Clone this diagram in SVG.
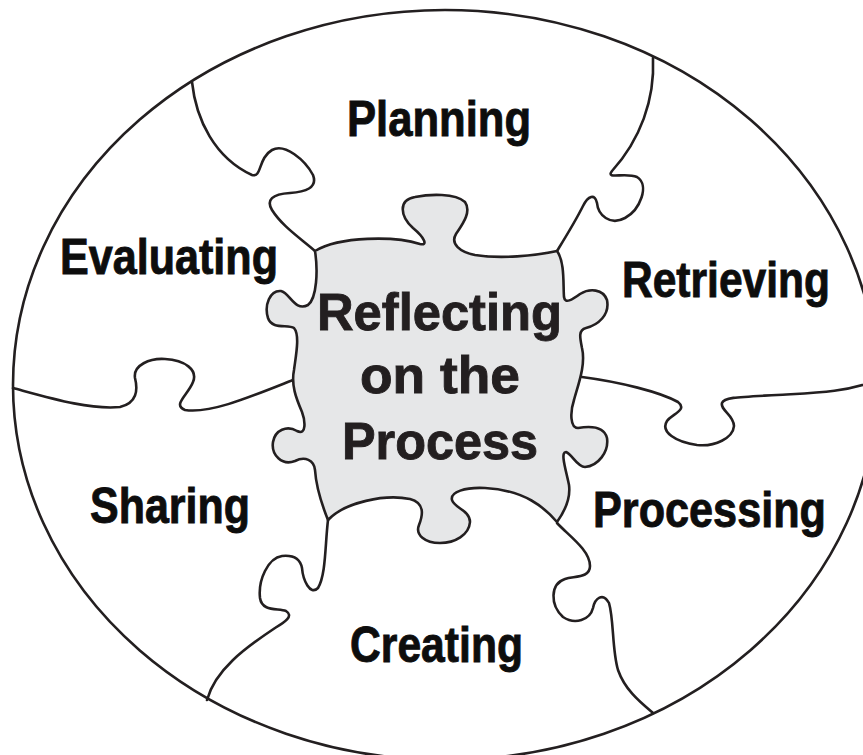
<svg xmlns="http://www.w3.org/2000/svg" width="863" height="755" viewBox="0 0 863 755">
<style>
.ln{fill:none;stroke:#231f20;stroke-width:2.6;stroke-linejoin:round;stroke-linecap:round}
.lbl{font-family:"Liberation Sans",Arial,sans-serif;font-weight:bold;font-size:50px;fill:#0d0d0d;stroke:#0d0d0d;stroke-width:0.9}
.ctr{font-family:"Liberation Sans",Arial,sans-serif;font-weight:bold;font-size:52px;fill:#231f20;stroke:#231f20;stroke-width:0.9}
</style>
<rect width="863" height="755" fill="#ffffff"/>
<g id="frame">
<ellipse cx="445" cy="385" rx="432" ry="375" fill="#ffffff" stroke="#231f20" stroke-width="2.6"/>
</g>
<g id="connectors">
<path class="ln" d="M192,82 C196,120 215,158 252,175 C262,178 258,158 272,150 C285,143 305,160 313,175 C318,188 305,192 290,193 C272,194 266,200 272,210 C282,226 300,238 315,251"/>
<path class="ln" d="M653,58 C655,100 640,140 612,171 C605,180 625,172 637,177 C650,185 640,210 625,218 C610,226 598,215 597,203 C595,193 588,196 583,206 C575,222 565,238 557,251"/>
<path class="ln" d="M582,377 C620,382 660,392 678,402 C688,410 672,414 667,421 C660,432 676,442 697,445 C715,447 733,438 734,426 C734,415 720,410 722,403 C724,397 740,397 777,395 C810,393 845,393 877,380"/>
<path class="ln" d="M557,523 C568,535 590,550 590,566 C590,578 575,576 565,579 C550,584 550,605 563,617 C575,625 590,620 593,608 C595,598 603,592 609,603 C614,620 612,650 618,670 C625,690 640,702 653,713"/>
<path class="ln" d="M328,520 C325,545 326,575 318,588 C310,596 303,580 302,568 C300,558 292,555 282,556 C268,558 258,580 260,598 C262,612 278,608 286,611 C294,616 285,622 275,628 C245,648 215,670 207,700"/>
<path class="ln" d="M13,388 C50,398 90,410 120,407 C137,403 138,390 135,378 C133,365 150,358 165,359 C185,360 198,370 193,382 C188,395 172,405 185,410 C210,414 250,397 293,380"/>
</g>
<g id="center">
<path fill="#e6e7e8" stroke="#231f20" stroke-width="2.6" stroke-linejoin="round" d="M315,251 C340,236 395,236 420,244 C428,246 425,238 413,228 C400,216 398,200 415,197 C430,194 455,193 465,202 C472,212 462,225 456,234 C450,244 460,252 475,255 C500,259 535,256 557,251 C565,262 563,285 564,297 C565,304 572,300 580,294 C590,288 603,289 607,300 C610,315 598,325 586,328 C578,330 580,338 582,348 C586,365 578,385 574,400 C570,412 570,428 578,428 C590,426 604,426 607,438 C609,452 598,466 585,467 C577,467 572,454 566,452 C560,452 566,470 569,485 C571,500 562,515 557,522 C545,508 525,490 485,488 C465,487 450,492 452,500 C454,508 470,510 470,522 C469,535 455,543 440,543 C425,543 415,535 419,525 C423,515 425,503 410,499 C385,494 345,502 328,520 C322,505 316,485 315,470 C314,460 305,456 295,461 C282,466 271,455 273,442 C275,430 287,425 297,431 C307,436 305,420 302,412 C296,398 291,385 294,370 C296,355 300,335 294,328 C288,324 272,330 268,318 C264,305 270,290 281,291 C290,293 295,312 308,305 C317,298 318,270 315,251 Z"/>
<text class="ctr" x="317" y="330" textLength="245" lengthAdjust="spacingAndGlyphs">Reflecting</text>
<text class="ctr" x="360" y="393" textLength="160" lengthAdjust="spacingAndGlyphs">on the</text>
<text class="ctr" x="342" y="459" textLength="196" lengthAdjust="spacingAndGlyphs">Process</text>
</g>
<g id="planning"><text class="lbl" x="347" y="136" textLength="184" lengthAdjust="spacingAndGlyphs">Planning</text></g>
<g id="retrieving"><text class="lbl" x="622" y="297" textLength="208" lengthAdjust="spacingAndGlyphs">Retrieving</text></g>
<g id="processing"><text class="lbl" x="593" y="527" textLength="233" lengthAdjust="spacingAndGlyphs">Processing</text></g>
<g id="creating"><text class="lbl" x="350" y="662" textLength="173" lengthAdjust="spacingAndGlyphs">Creating</text></g>
<g id="sharing"><text class="lbl" x="90" y="523" textLength="160" lengthAdjust="spacingAndGlyphs">Sharing</text></g>
<g id="evaluating"><text class="lbl" x="60" y="274" textLength="218" lengthAdjust="spacingAndGlyphs">Evaluating</text></g>
</svg>
